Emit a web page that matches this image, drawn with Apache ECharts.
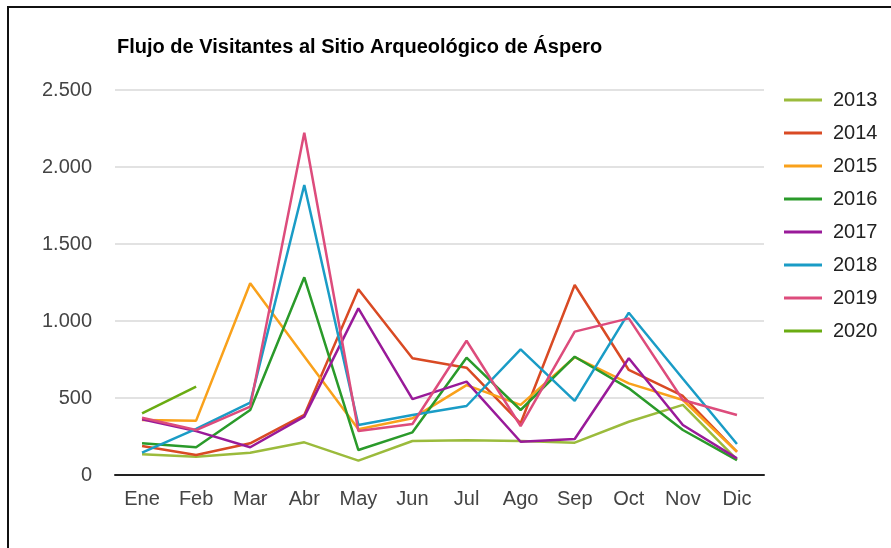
<!DOCTYPE html>
<html>
<head>
<meta charset="utf-8">
<script src="https://cdn.jsdelivr.net/npm/echarts@6/dist/echarts.min.js"></script>
<style>
  html, body { margin: 0; padding: 0; background: #fff; }
  #chart { width: 891px; height: 548px; }
</style>
</head>
<body>
<div id="chart"></div>
<script>
var months = ['Ene', 'Feb', 'Mar', 'Abr', 'May', 'Jun', 'Jul', 'Ago', 'Sep', 'Oct', 'Nov', 'Dic'];
var years = ['2013', '2014', '2015', '2016', '2017', '2018', '2019', '2020'];

var v2013 = [134, 119, 145, 212, 93, 221, 225, 221, 210, 346, 455, 100];
var v2014 = [188, 130, 206, 390, 1206, 758, 697, 336, 1234, 682, 513, 151];
var v2015 = [357, 353, 1245, 770, 297, 368, 584, 455, 765, 595, 487, 151];
var v2016 = [206, 180, 422, 1284, 162, 277, 762, 422, 768, 563, 292, 97];
var v2017 = [362, 285, 180, 379, 1082, 493, 606, 216, 234, 758, 325, 108];
var v2018 = [145, 299, 470, 1883, 325, 390, 448, 816, 481, 1054, 625, 201];
var v2019 = [372, 292, 444, 2223, 286, 331, 872, 318, 931, 1017, 487, 390];
var v2020 = [400, 574];

var colors = ['#9bbb3c', '#d94a24', '#f9a11b', '#2a9a2a', '#991a99', '#1a9cc6', '#dd4c7c', '#6aac12'];
var allData = [v2013, v2014, v2015, v2016, v2017, v2018, v2019, v2020];

var myChart = echarts.init(document.getElementById('chart'));

var series = [];
for (var i = 0; i < years.length; i++) {
    series.push({
        name: years[i],
        type: 'line',
        data: allData[i],
        symbol: 'none',
        lineStyle: { width: 2.5 }
    });
}

var option = {
    color: colors,
    animation: false,
    title: {
        text: 'Flujo de Visitantes al Sitio Arqueológico de Áspero',
        left: 112,
        top: 32,
        textStyle: {
            fontFamily: 'Liberation Sans',
            fontSize: 20,
            fontWeight: 'bold',
            color: '#000'
        }
    },
    legend: {
        data: years,
        orient: 'vertical',
        left: 779,
        top: 84,
        icon: 'rect',
        itemWidth: 38,
        itemHeight: 3,
        itemGap: 11,
        textStyle: {
            fontFamily: 'Liberation Sans',
            fontSize: 20,
            color: '#222',
            lineHeight: 22,
            padding: [0, 0, 0, 6]
        }
    },
    grid: {
        left: 115,
        right: 127,
        top: 90,
        bottom: 73
    },
    xAxis: {
        type: 'category',
        data: months,
        boundaryGap: true,
        axisLine: { lineStyle: { color: '#222', width: 2 } },
        axisTick: { show: false },
        axisLabel: {
            margin: 14,
            fontFamily: 'Liberation Sans',
            fontSize: 20,
            color: '#444'
        }
    },
    yAxis: {
        type: 'value',
        min: 0,
        max: 2500,
        interval: 500,
        axisLine: { show: false },
        axisTick: { show: false },
        splitLine: { lineStyle: { color: '#d9d9d9', width: 1.5 } },
        axisLabel: {
            margin: 23,
            fontFamily: 'Liberation Sans',
            fontSize: 20,
            color: '#444',
            formatter: function (v) {
                return String(v).replace(/\B(?=(\d{3})+(?!\d))/g, '.');
            }
        }
    },
    graphic: [
        {
            type: 'polyline',
            shape: { points: [[8, 548], [8, 7], [891, 7]] },
            style: { stroke: '#111', lineWidth: 2, fill: null }
        }
    ],
    series: series
};

myChart.setOption(option);
window.onresize = myChart.resize;
</script>
</body>
</html>
